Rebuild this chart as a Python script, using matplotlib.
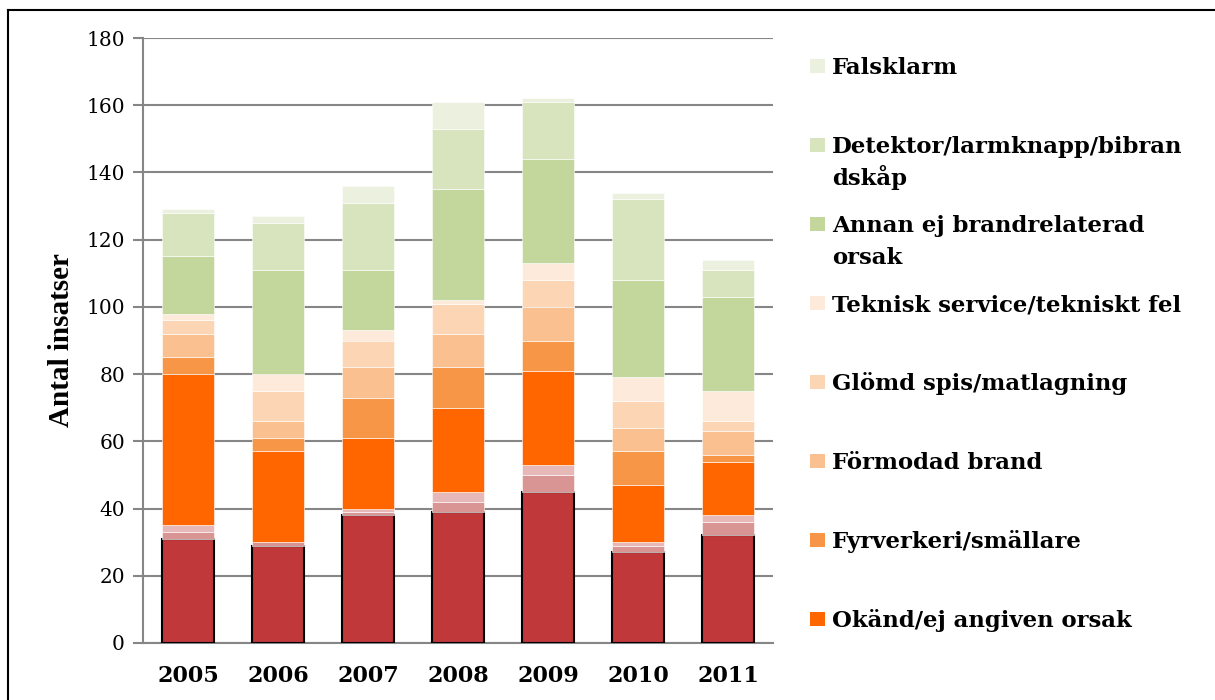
import matplotlib
matplotlib.use('Agg')
from matplotlib import pyplot as plt
from matplotlib.patches import Rectangle
from matplotlib.lines import Line2D
import numpy as np

# data (stacked from the bottom)
years = ['2005', '2006', '2007', '2008', '2009', '2010', '2011']
brand_rod = [31, 29, 38, 39, 45, 27, 32]
rosa_mork = [2, 1, 1, 3, 5, 2, 4]
rosa_ljus = [2, 0, 1, 3, 3, 1, 2]
okand = [45, 27, 21, 25, 28, 17, 16]
fyrverkeri = [5, 4, 12, 12, 9, 10, 2]
formodad = [7, 5, 9, 10, 10, 7, 7]
glomd_spis = [4, 9, 8, 9, 8, 8, 3]
teknisk = [2, 5, 3, 1, 5, 7, 9]
annan = [17, 31, 18, 33, 31, 29, 28]
detektor = [13, 14, 20, 18, 17, 24, 8]
falsklarm = [1, 2, 5, 8, 1, 2, 3]

series = [brand_rod, rosa_mork, rosa_ljus, okand, fyrverkeri, formodad,
          glomd_spis, teknisk, annan, detektor, falsklarm]
colors = ['#C0383A', '#D99594', '#E6B9B8', '#FF6600', '#F79646', '#FAC090',
          '#FCD5B5', '#FDEADA', '#C3D69B', '#D7E4BD', '#EBF1DE']

legend_labels = ['Falsklarm', 'Detektor/larmknapp/bibran\ndskåp',
                 'Annan ej brandrelaterad\norsak', 'Teknisk service/tekniskt fel',
                 'Glömd spis/matlagning', 'Förmodad brand',
                 'Fyrverkeri/smällare', 'Okänd/ej angiven orsak']
legend_colors = colors[::-1][:8]

W, H = 1215, 700
fig = plt.figure(figsize=(W / 100, H / 100), dpi=100)
ax = fig.add_axes([143 / W, 1 - 643 / H, 630 / W, 605 / H])

x = np.arange(len(years))
bottom = np.zeros(len(years))
for i, (vals, col) in enumerate(zip(series, colors)):
    if i == 0:
        ax.bar(x, vals, 0.57, bottom=bottom, color=col, edgecolor='black', linewidth=1.5, zorder=3)
    else:
        ax.bar(x, vals, 0.57, bottom=bottom, color=col, edgecolor='white', linewidth=0.4, zorder=3)
    bottom += np.array(vals)

ax.set_xlim(-0.5, len(years) - 0.5)
ax.set_ylim(0, 180)
ax.set_yticks(range(0, 181, 20))
ax.set_xticks(x)
ax.set_xticklabels(years, fontfamily='DejaVu Serif', fontweight='bold', fontsize=16)
for lab in ax.get_yticklabels():
    lab.set_fontfamily('DejaVu Serif')
    lab.set_fontsize(14.5)
ax.tick_params(axis='x', length=0, pad=16)
ax.tick_params(axis='y', length=7, width=1.5, color='#868686', pad=6)
ax.yaxis.grid(True, color='#868686', linewidth=1.5, zorder=0)
ax.set_axisbelow(True)
for s in ['top', 'right']:
    ax.spines[s].set_visible(False)
for s in ['left', 'bottom']:
    ax.spines[s].set_color('#868686')
    ax.spines[s].set_linewidth(1.5)
ax.set_ylabel('Antal insatser', fontfamily='Liberation Serif', fontweight='bold',
              fontsize=21, labelpad=8)

# legend drawn by hand: marker aligned with first line, fixed step
for i, (lab, col) in enumerate(zip(legend_labels, legend_colors)):
    yc = 66 + 79 * i
    fig.add_artist(Rectangle((810 / W, 1 - (yc + 7) / H), 15 / W, 14 / H,
                             transform=fig.transFigure, facecolor=col, edgecolor='none'))
    for j, line in enumerate(lab.split('\n')):
        fig.text(832 / W, 1 - (yc + 8 + 32 * j) / H, line, fontfamily='DejaVu Serif',
                 fontweight='bold', fontsize=16.4, va='baseline', ha='left')

# frame edges visible in the picture
fig.add_artist(Line2D([8 / W, 1], [1 - 10 / H, 1 - 10 / H], color='black', linewidth=1.5,
                      transform=fig.transFigure))
fig.add_artist(Line2D([8 / W, 8 / W], [0, 1 - 10 / H], color='black', linewidth=1.5,
                      transform=fig.transFigure))

fig.savefig('out.png', dpi=100)
